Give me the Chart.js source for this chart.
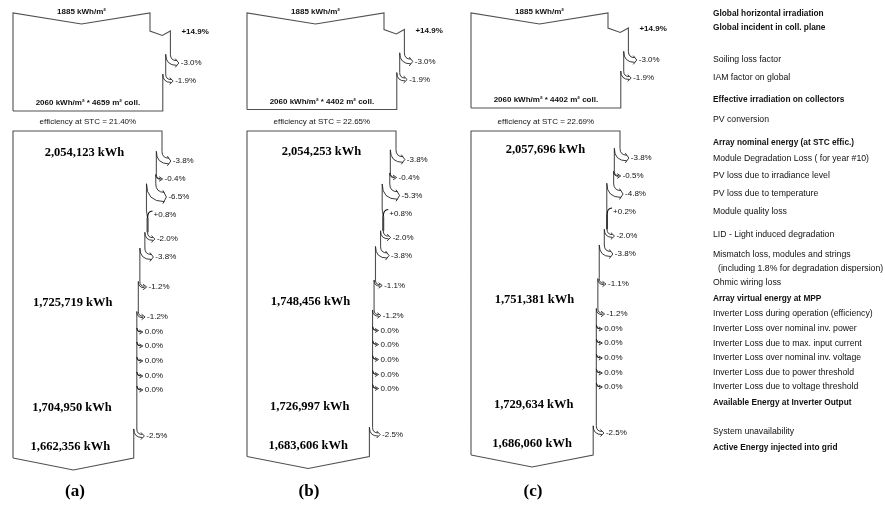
<!DOCTYPE html>
<html>
<head>
<meta charset="utf-8">
<script src="https://cdn.jsdelivr.net/npm/chart.js@4.4.1/dist/chart.umd.min.js"></script>
<style>
  html, body { margin: 0; padding: 0; background: #fff; }
  #wrap { width: 885px; height: 506px; position: relative; }
</style>
</head>
<body>
<div id="wrap"><canvas id="loss-chart"></canvas></div>
<script>
// values
const PANEL_NAMES = ["(a)", "(b)", "(c)"];
const GHI = [1885, 1885, 1885];
const EFFECTIVE_IRR = [2060, 2060, 2060];
const COLL_AREA = [4659, 4402, 4402];
const STC_EFF = [21.40, 22.65, 22.69];
const IRR_STEPS_A = [14.9, -3.0, -1.9];
const IRR_STEPS_B = [14.9, -3.0, -1.9];
const IRR_STEPS_C = [14.9, -3.0, -1.9];
const ARRAY_STEPS_A = [-3.8, -0.4, -6.5, 0.8, -2.0, -3.8, -1.2, -1.2, 0.0, 0.0, 0.0, 0.0, 0.0, -2.5];
const ARRAY_STEPS_B = [-3.8, -0.4, -5.3, 0.8, -2.0, -3.8, -1.1, -1.2, 0.0, 0.0, 0.0, 0.0, 0.0, -2.5];
const ARRAY_STEPS_C = [-3.8, -0.5, -4.8, 0.2, -2.0, -3.8, -1.1, -1.2, 0.0, 0.0, 0.0, 0.0, 0.0, -2.5];
const NOMINAL_ENERGY = [2054123, 2054253, 2057696];
const MPP_ENERGY = [1725719, 1748456, 1751381];
const INVERTER_OUT = [1704950, 1726997, 1729634];
const GRID_ENERGY = [1662356, 1683606, 1686060];

const STEP_LABELS = [
  "Global horizontal irradiation",
  "Global incident in coll. plane",
  "Soiling loss factor",
  "IAM factor on global",
  "Effective irradiation on collectors",
  "PV conversion",
  "Array nominal energy (at STC effic.)",
  "Module Degradation Loss ( for year #10)",
  "PV loss due to irradiance level",
  "PV loss due to temperature",
  "Module quality loss",
  "LID - Light induced degradation",
  "Mismatch loss, modules and strings",
  "(including 1.8% for degradation dispersion)",
  "Ohmic wiring loss",
  "Array virtual energy at MPP",
  "Inverter Loss during operation (efficiency)",
  "Inverter Loss over nominal inv. power",
  "Inverter Loss due to max. input current",
  "Inverter Loss over nominal inv. voltage",
  "Inverter Loss due to power threshold",
  "Inverter Loss due to voltage threshold",
  "Available Energy at Inverter Output",
  "System unavailability",
  "Active Energy injected into grid"
];
const STEP_BOLD = [1, 1, 0, 0, 1, 0, 1, 0, 0, 0, 0, 0, 0, 0, 0, 1, 0, 0, 0, 0, 0, 0, 1, 0, 1];

// layout (pixels in the 885x506 frame)
const PANEL_DX = [0, 234, 458];
const PANEL_DY = [3, 1.5, 0];
const ENERGY_DX = [-3, 0, 0];
const LEFT = 13;
const TOP_W = 137;
const ARRAY_W = 149;
const IRR_ROWS_Y = [28, 60, 78];
const ARRAY_ROWS_Y = [158, 176, 194, 212, 236, 254, 284, 314, 329, 343, 358, 373, 387, 433];
const ENERGY_ROWS_Y = [150, 300, 405, 444];
const LEGEND_X = 713;
const LEGEND_INDENT = [0, 0, 0, 0, 0, 0, 0, 0, 0, 0, 0, 0, 0, 5, 0, 0, 0, 0, 0, 0, 0, 0, 0, 0, 0];
const LEGEND_Y = [14, 28, 60, 78, 100, 120, 143, 159, 176, 194, 212, 235, 255, 269, 283, 299, 314, 329, 344, 358, 373, 387, 403, 432, 448];
const LINE = "#505050";
const INK = "#222";
const SANS = '"Liberation Sans", Arial, sans-serif';
const SERIF = '"Liberation Serif", "Times New Roman", serif';

const IRR_STEPS = [IRR_STEPS_A, IRR_STEPS_B, IRR_STEPS_C];
const ARRAY_STEPS = [ARRAY_STEPS_A, ARRAY_STEPS_B, ARRAY_STEPS_C];

function pct(v) {
  if (v > 0) return "+" + v.toFixed(1) + "%";
  if (v === 0) return "0.0%";
  return v.toFixed(1) + "%";
}

function kwh(v) {
  return v.toLocaleString("en-US") + " kWh";
}

// walk a list of steps down the right edge, widths scale with each step
function walkSteps(left, width, steps, rows, dy, points, marks, firstGainNotch) {
  let w = width;
  const widths = [];
  steps.forEach((p, i) => {
    const rowY = rows[i] + dy;
    const xp = left + w;
    const nw = w * (1 + p / 100);
    const xn = left + nw;
    if (p > 0 && firstGainNotch) {
      points.push({ x: xp, y: rowY }, { x: xp + 0.6 * (xn - xp), y: rowY + 4.5 }, { x: xn, y: rowY });
      marks.push({ kind: "label", x: xn + 11, y: rowY + 1, text: pct(p), bold: true });
    } else if (p > 0) {
      points.push({ x: xp, y: rowY - 4 }, { x: xn, y: rowY + 3 });
      marks.push({ kind: "gain", xn, y: rowY });
      marks.push({ kind: "label", x: xn + 6, y: rowY, text: pct(p) });
    } else {
      const d = xp - xn;
      const r = 4 + d * 0.5;
      const y0 = rowY - r - d / 2;
      points.push({ x: xp, y: y0 }, { x: xn, y: null }, { x: xn, y: y0 });
      marks.push({ kind: "loss", xp, xn, y0, r, d });
      marks.push({ kind: "label", x: xp + r + 4, y: rowY, text: pct(p) });
    }
    w = nw;
    widths.push(w);
  });
  return widths;
}

function buildPanel(i) {
  const L = LEFT + PANEL_DX[i];
  const dy = PANEL_DY[i];
  const marks = [];

  // irradiation box
  const top = [{ x: L, y: 108 + dy }, { x: L, y: 13 }, { x: L + TOP_W / 2, y: 24 }, { x: L + TOP_W, y: 13 }];
  const irrW = walkSteps(L, TOP_W, IRR_STEPS[i], IRR_ROWS_Y, dy, top, marks, true);
  const topEnd = L + irrW[irrW.length - 1];
  top.push({ x: topEnd, y: 108 + dy }, { x: L, y: 108 + dy });
  marks.push({ kind: "label", x: L + TOP_W / 2, y: 12, text: GHI[i] + " kWh/m\u00b2", bold: true, align: "center" });
  marks.push({ kind: "label", x: (L + topEnd) / 2, y: 100 + dy, text: EFFECTIVE_IRR[i] + " kWh/m\u00b2 * " + COLL_AREA[i] + " m\u00b2 coll.", bold: true, align: "center" });
  marks.push({ kind: "label", x: (L + topEnd) / 2, y: 122, text: "efficiency at STC = " + STC_EFF[i].toFixed(2) + "%", align: "center" });

  // energy box
  const bottomY = 455 + dy;
  const low = [{ x: L, y: bottomY }, { x: L, y: 131 }, { x: L + ARRAY_W, y: 131 }];
  const arrW = walkSteps(L, ARRAY_W, ARRAY_STEPS[i], ARRAY_ROWS_Y, dy, low, marks, false);
  const endX = L + arrW[arrW.length - 1];
  low.push({ x: endX, y: bottomY }, { x: (L + endX) / 2, y: bottomY + 12 }, { x: L, y: bottomY });

  // darker stretch right after the gain step
  const gi = ARRAY_STEPS[i].findIndex(p => p > 0);
  const gx = L + arrW[gi];
  const nextLoss = marks.filter(m => m.kind === "loss" && m.y0 > ARRAY_ROWS_Y[gi] + dy)[0];
  const strip = [{ x: gx, y: ARRAY_ROWS_Y[gi] + dy + 3 }, { x: gx, y: nextLoss.y0 }];

  const energies = [NOMINAL_ENERGY[i], MPP_ENERGY[i], INVERTER_OUT[i], GRID_ENERGY[i]];
  const energyW = [ARRAY_W, arrW[6], arrW[12], arrW[13]];
  energies.forEach((e, k) => {
    marks.push({ kind: "energy", x: L + energyW[k] / 2 + ENERGY_DX[i], y: ENERGY_ROWS_Y[k] + dy, text: kwh(e) });
  });
  marks.push({ kind: "panel", x: L + 62, y: 492, text: PANEL_NAMES[i] });

  return { top, low, strip, marks };
}

const panels = PANEL_NAMES.map((_, i) => buildPanel(i));

const datasets = [];
panels.forEach(p => {
  datasets.push({ data: p.top, borderColor: LINE, borderWidth: 1.1 });
  datasets.push({ data: p.low, borderColor: LINE, borderWidth: 1.1 });
  datasets.push({ data: p.strip, borderColor: "#111", borderWidth: 1.8 });
});

const marksPlugin = {
  id: "marks",
  afterDatasetsDraw(chart) {
    const { ctx } = chart;
    const X = v => chart.scales.x.getPixelForValue(v);
    const Y = v => chart.scales.y.getPixelForValue(v);
    ctx.save();
    ctx.textBaseline = "middle";
    panels.forEach(p => {
      p.marks.forEach(m => {
        if (m.kind === "loss") {
          const { xp, xn, y0, r, d } = m;
          ctx.strokeStyle = INK;
          ctx.lineWidth = 0.9;
          ctx.beginPath();
          ctx.moveTo(X(xp), Y(y0));
          ctx.quadraticCurveTo(X(xp), Y(y0 + r), X(xp + r), Y(y0 + r));
          ctx.moveTo(X(xn), Y(y0));
          ctx.quadraticCurveTo(X(xn), Y(y0 + r + d), X(xp + r), Y(y0 + r + d));
          ctx.moveTo(X(xp + r - 1.5), Y(y0 + r - 2));
          ctx.lineTo(X(xp + r + 2), Y(y0 + r + d / 2));
          ctx.lineTo(X(xp + r - 1.5), Y(y0 + r + d + 2));
          ctx.stroke();
        } else if (m.kind === "gain") {
          ctx.strokeStyle = "#111";
          ctx.lineWidth = 1.2;
          ctx.beginPath();
          ctx.moveTo(X(m.xn + 5), Y(m.y - 4));
          ctx.quadraticCurveTo(X(m.xn), Y(m.y - 4), X(m.xn), Y(m.y + 3));
          ctx.stroke();
        } else if (m.kind === "label") {
          ctx.fillStyle = "#111";
          ctx.font = (m.bold ? "bold " : "") + "8px " + SANS;
          ctx.textAlign = m.align || "left";
          ctx.fillText(m.text, X(m.x), Y(m.y));
        } else if (m.kind === "energy") {
          ctx.fillStyle = "#000";
          ctx.font = "bold 12.5px " + SERIF;
          ctx.textAlign = "center";
          ctx.fillText(m.text, X(m.x), Y(m.y));
        } else if (m.kind === "panel") {
          ctx.fillStyle = "#000";
          ctx.font = "bold 17px " + SERIF;
          ctx.textAlign = "center";
          ctx.fillText(m.text, X(m.x), Y(m.y));
        }
      });
    });
    // step names on the right
    ctx.textAlign = "left";
    STEP_LABELS.forEach((label, k) => {
      ctx.fillStyle = "#111";
      ctx.font = STEP_BOLD[k] ? "bold 8.3px " + SANS : "8.7px " + SANS;
      ctx.fillText(label, X(LEGEND_X + LEGEND_INDENT[k]), Y(LEGEND_Y[k]));
    });
    ctx.restore();
  }
};

new Chart(document.getElementById("loss-chart"), {
  type: "scatter",
  data: { datasets },
  options: {
    responsive: true,
    maintainAspectRatio: false,
    animation: false,
    events: [],
    showLine: true,
    spanGaps: false,
    layout: { padding: 0 },
    elements: { point: { radius: 0 }, line: { tension: 0 } },
    plugins: { legend: { display: false }, tooltip: { enabled: false } },
    scales: {
      x: { type: "linear", min: 0, max: 885, display: false },
      y: { type: "linear", min: 0, max: 506, reverse: true, display: false }
    }
  },
  plugins: [marksPlugin]
});
</script>
</body>
</html>
